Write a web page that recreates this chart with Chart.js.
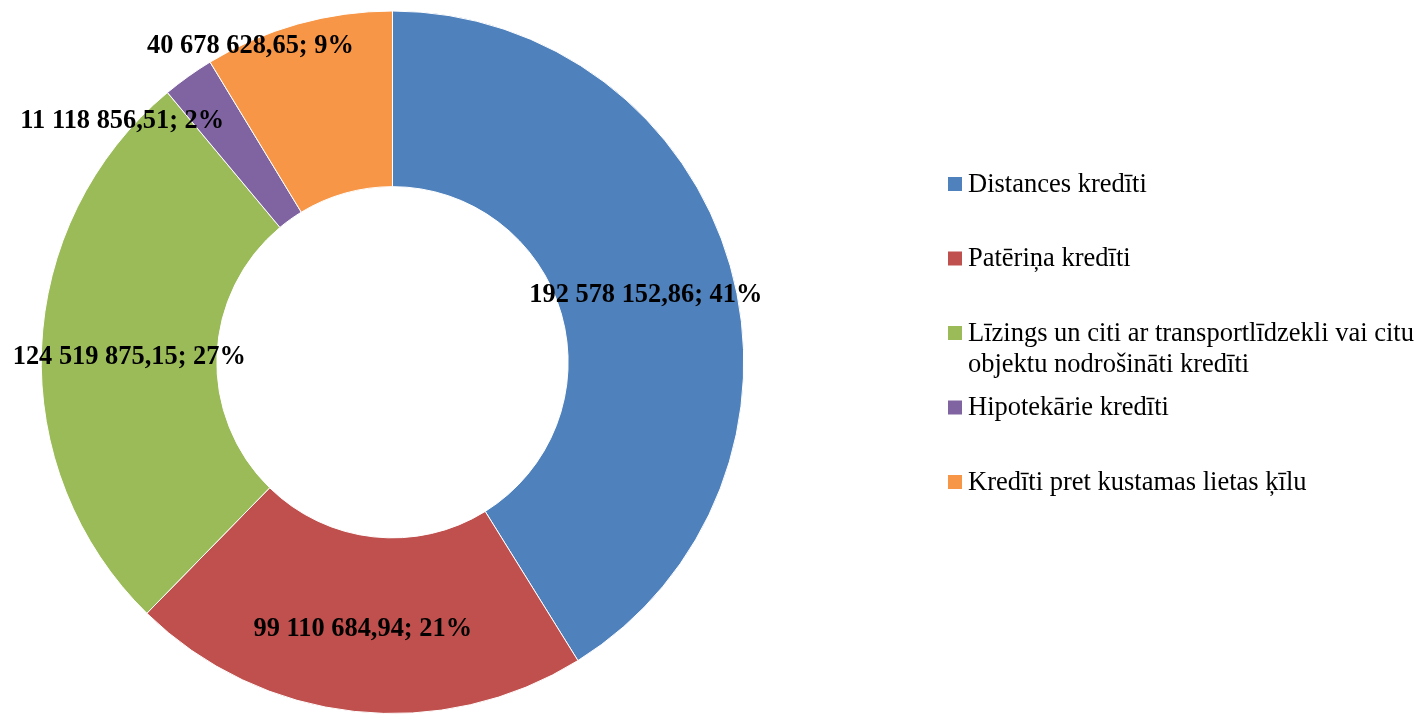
<!DOCTYPE html>
<html>
<head>
<meta charset="utf-8">
<script src="https://cdn.jsdelivr.net/npm/chart.js@4"></script>
<style>
html,body{margin:0;padding:0;background:#fff;}
#wrap{position:relative;width:1422px;height:714px;overflow:hidden;}
</style>
</head>
<body>
<div id="wrap"><canvas id="c" width="1422" height="714"></canvas></div>
<script>
const categories = [
  "Distances kredīti",
  "Patēriņa kredīti",
  "Līzings un citi ar transportlīdzekli vai citu objektu nodrošināti kredīti",
  "Hipotekārie kredīti",
  "Kredīti pret kustamas lietas ķīlu"
];
const values = [192578152.86, 99110684.94, 124519875.15, 11118856.51, 40678628.65];
const valueLabels = ["192 578 152,86", "99 110 684,94", "124 519 875,15", "11 118 856,51", "40 678 628,65"];
const colors = ["#4F81BD", "#C0504D", "#9BBB59", "#8064A2", "#F79646"];

// label offsets from slice centroid (Excel moved the two small ones outside)
const labelOffsets = [[0,5],[-1,5],[0,5],[-117,-27],[-71,-62]];

const labelPlugin = {
  id: 'sliceLabels',
  afterDatasetsDraw(chart) {
    const ctx = chart.ctx;
    const meta = chart.getDatasetMeta(0);
    const total = values.reduce((a,b)=>a+b,0);
    ctx.save();
    ctx.font = 'bold 26.4px "Liberation Serif", "Times New Roman", serif';
    ctx.fillStyle = '#000';
    ctx.textAlign = 'center';
    ctx.textBaseline = 'middle';
    meta.data.forEach((arc, i) => {
      const p = arc.tooltipPosition();
      const pct = Math.round(values[i] / total * 100);
      const txt = valueLabels[i] + '; ' + pct + '%';
      ctx.fillText(txt, p.x + labelOffsets[i][0], p.y + labelOffsets[i][1]);
    });
    ctx.restore();
  }
};

const legendPlugin = {
  id: 'sideLegend',
  afterDraw(chart) {
    const ctx = chart.ctx;
    const x0 = 948, box = 14, textX = 968, maxW = 454;
    const startY = 184, step = 74.5, lineH = 31;
    ctx.save();
    ctx.font = '26.5px "Liberation Serif", "Times New Roman", serif';
    ctx.textBaseline = 'middle';
    ctx.textAlign = 'left';
    categories.forEach((lab, i) => {
      const y = startY + i * step;
      ctx.fillStyle = colors[i];
      ctx.fillRect(x0, y - box/2, box, box);
      const words = lab.split(' ');
      const lines = [];
      let cur = '';
      words.forEach(w => {
        const t = cur ? cur + ' ' + w : w;
        if (ctx.measureText(t).width > maxW && cur) { lines.push(cur); cur = w; }
        else cur = t;
      });
      if (cur) lines.push(cur);
      ctx.fillStyle = '#000';
      lines.forEach((ln, k) => ctx.fillText(ln, textX, y + 1 + k * lineH));
    });
    ctx.restore();
  }
};

new Chart(document.getElementById('c'), {
  type: 'doughnut',
  data: {
    labels: categories,
    datasets: [{
      data: values,
      backgroundColor: colors,
      borderColor: '#ffffff',
      borderWidth: 1,
      hoverOffset: 0
    }]
  },
  options: {
    responsive: false,
    animation: false,
    cutout: '50%',
    layout: { padding: { left: 38, right: 675, top: 10.5, bottom: -5.5 } },
    plugins: {
      legend: { display: false },
      tooltip: { enabled: false }
    }
  },
  plugins: [labelPlugin, legendPlugin]
});
</script>
</body>
</html>
